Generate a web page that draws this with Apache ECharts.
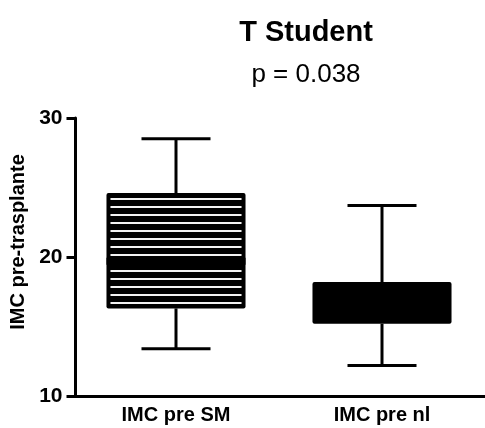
<!DOCTYPE html>
<html>
<head>
<meta charset="utf-8">
<script src="https://cdn.jsdelivr.net/npm/echarts@6/dist/echarts.min.js"></script>
<style>
  html, body { margin: 0; padding: 0; background: #fff; }
  #chart { width: 485px; height: 428px; }
</style>
</head>
<body>
<div id="chart"></div>
<script>
// Body-mass index before transplant, two groups (box = quartiles, whiskers = min/max)
const categories = ['IMC pre SM', 'IMC pre nl'];
const whiskerLow = [13.4, 12.2];
const q1 = [16.3, 15.2];
const median = [19.7, 16.7];
const q3 = [24.6, 18.2];
const whiskerHigh = [28.5, 23.7];
const yTicks = [10, 20, 30];

// Box fill per group: horizontal white stripes on black, or plain black
const boxFill = ['stripes', 'solid'];

const FONT = "'Liberation Sans', Arial, Helvetica, sans-serif";

const boxData = categories.map((c, i) => [i, whiskerLow[i], q1[i], median[i], q3[i], whiskerHigh[i]]);

function renderBox(params, api) {
  const i = api.value(0);
  const band = api.size([1, 0])[0];
  const boxW = band * 0.675;
  const capW = band * 0.335;
  const cx = api.coord([i, 0])[0];
  const yLo = api.coord([i, api.value(1)])[1];
  const yQ1 = api.coord([i, api.value(2)])[1];
  const yMed = api.coord([i, api.value(3)])[1];
  const yQ3 = api.coord([i, api.value(4)])[1];
  const yHi = api.coord([i, api.value(5)])[1];
  const stroke = { stroke: '#000', lineWidth: 3, fill: null };
  const children = [
    { type: 'line', shape: { x1: cx, y1: yHi, x2: cx, y2: yQ3 }, style: stroke },
    { type: 'line', shape: { x1: cx, y1: yQ1, x2: cx, y2: yLo }, style: stroke },
    { type: 'line', shape: { x1: cx - capW / 2, y1: yHi, x2: cx + capW / 2, y2: yHi }, style: stroke },
    { type: 'line', shape: { x1: cx - capW / 2, y1: yLo, x2: cx + capW / 2, y2: yLo }, style: stroke },
    { type: 'rect', shape: { x: cx - boxW / 2, y: yQ3, width: boxW, height: yQ1 - yQ3, r: 2 },
      style: { fill: '#000' } }
  ];
  if (boxFill[params.dataIndex] === 'stripes') {
    for (let y = yQ3 + 6; y <= yQ1 - 5; y += 8) {
      children.push({ type: 'line',
        shape: { x1: cx - boxW / 2 + 4, y1: y, x2: cx + boxW / 2 - 4, y2: y },
        style: { stroke: '#f2f2f2', lineWidth: 2 } });
    }
    children.push({ type: 'line',
      shape: { x1: cx - boxW / 2, y1: yMed, x2: cx + boxW / 2, y2: yMed },
      style: { stroke: '#000', lineWidth: 7 } });
  }
  return { type: 'group', children };
}

const chart = echarts.init(document.getElementById('chart'), null, { renderer: 'canvas' });
chart.setOption({
  animation: false,
  backgroundColor: '#fff',
  title: [
    { text: 'T Student', left: 301, top: 13, textAlign: 'center',
      textStyle: { fontFamily: FONT, fontWeight: 'bold', fontSize: 29, color: '#000' } },
    { text: 'p = 0.038', left: 301, top: 57, textAlign: 'center',
      textStyle: { fontFamily: FONT, fontWeight: 'normal', fontSize: 26, color: '#000' } }
  ],
  grid: { left: 73, top: 118, width: 418, height: 278 },
  xAxis: {
    type: 'category',
    data: categories,
    axisLine: { lineStyle: { color: '#000', width: 3 } },
    axisTick: { show: false },
    axisLabel: { margin: 9, color: '#000', fontFamily: FONT, fontWeight: 'bold', fontSize: 20 },
    splitLine: { show: false }
  },
  yAxis: {
    type: 'value',
    min: yTicks[0],
    max: yTicks[yTicks.length - 1],
    interval: yTicks[1] - yTicks[0],
    offset: -2.5,
    name: 'IMC pre-trasplante',
    nameLocation: 'middle',
    nameRotate: 90,
    nameGap: 40,
    nameTextStyle: { fontFamily: FONT, fontWeight: 'bold', fontSize: 20, color: '#000', padding: [0, 0, 0, 30] },
    axisLine: { show: true, lineStyle: { color: '#000', width: 3 } },
    axisTick: { show: true, length: 9, lineStyle: { color: '#000', width: 3 } },
    axisLabel: { margin: 13, color: '#000', fontFamily: FONT, fontWeight: 'bold', fontSize: 21 },
    splitLine: { show: false }
  },
  series: [{
    type: 'custom',
    renderItem: renderBox,
    encode: { x: 0, y: [1, 2, 3, 4, 5] },
    data: boxData
  }]
});
</script>
</body>
</html>
